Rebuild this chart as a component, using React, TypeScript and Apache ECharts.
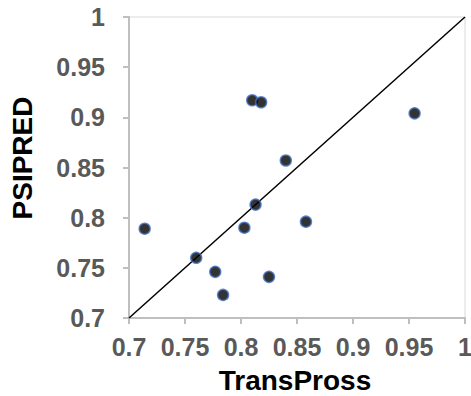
import React, { useEffect, useRef } from "react";
import * as echarts from "echarts";

const transPross = [0.714, 0.81, 0.818, 0.84, 0.813, 0.803, 0.858, 0.76, 0.777, 0.825, 0.784, 0.955];
const psipred = [0.789, 0.917, 0.915, 0.857, 0.813, 0.79, 0.796, 0.76, 0.746, 0.741, 0.723, 0.904];
const diagonal = [0.7, 1];
const xTitle = "TransPross";
const yTitle = "PSIPRED";

export default function App() {
  const ref = useRef<HTMLDivElement>(null);
  useEffect(() => {
    const chart = echarts.init(ref.current!, null, { renderer: "svg" });
    const labelStyle = {
      color: "#595959",
      fontSize: 25,
      fontWeight: "bold" as const,
      fontFamily: "Liberation Sans, Arial, sans-serif",
    };
    const axisCommon = {
      type: "value" as const,
      min: 0.7,
      max: 1,
      interval: 0.05,
      splitLine: { show: false },
      axisLine: { show: true, onZero: false, lineStyle: { color: "#bfbfbf", width: 2 } },
      axisTick: { show: true, inside: false, length: 6, lineStyle: { color: "#bfbfbf", width: 2 } },
    };
    chart.setOption({
      animation: false,
      backgroundColor: "#ffffff",
      grid: {
        left: 129,
        right: 6,
        top: 17,
        bottom: 78,
        show: true,
        borderColor: "#d9d9d9",
        borderWidth: 1,
        backgroundColor: "transparent",
        outerBoundsMode: "none",
        containLabel: false,
      },
      xAxis: {
        ...axisCommon,
        axisLabel: { ...labelStyle, margin: 16, formatter: (v: number) => String(+v.toFixed(2)) },
      },
      yAxis: {
        ...axisCommon,
        axisLabel: { ...labelStyle, margin: 24, formatter: (v: number) => String(+v.toFixed(2)) },
      },
      graphic: [
        {
          type: "text",
          x: 295,
          y: 380,
          style: {
            text: xTitle,
            fill: "#000",
            font: "bold 28px Liberation Sans, Arial, sans-serif",
            align: "center",
            verticalAlign: "middle",
          },
        },
        {
          type: "text",
          x: 22,
          y: 158,
          rotation: Math.PI / 2,
          style: {
            text: yTitle,
            fill: "#000",
            font: "bold 28px Liberation Sans, Arial, sans-serif",
            align: "center",
            verticalAlign: "middle",
          },
        },
      ],
      series: [
        {
          type: "line",
          data: diagonal.map((v) => [v, v]),
          symbol: "none",
          lineStyle: { color: "#000", width: 1.5 },
          z: 2,
        },
        {
          type: "scatter",
          data: transPross.map((x, i) => [x, psipred[i]]),
          symbolSize: 11,
          itemStyle: { color: "#000", borderColor: "#4472c4", borderWidth: 1.5 },
          z: 3,
        },
      ],
    });
    return () => chart.dispose();
  }, []);
  return <div ref={ref} style={{ width: 471, height: 396, position: "absolute", left: 0, top: 0 }} />;
}
